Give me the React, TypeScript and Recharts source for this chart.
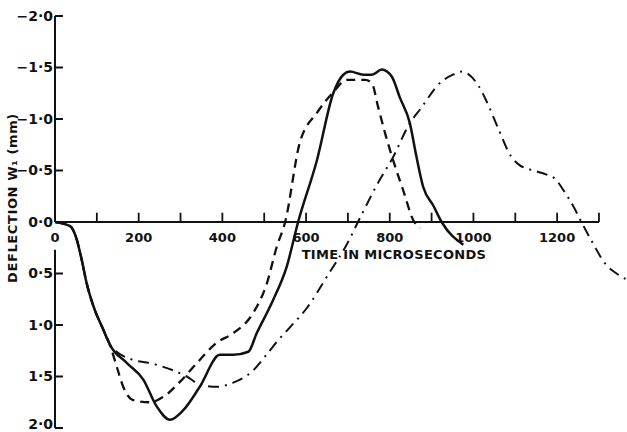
import { LineChart, Line, XAxis, YAxis, ReferenceLine } from "recharts";

// shared onset: all three traces lie on top of each other until ~130 us
const onsetTime = [0, 36, 52, 64, 76, 92, 116, 131];
const onsetDeflection = [0, 0.04, 0.17, 0.37, 0.6, 0.82, 1.05, 1.19];

const solidTime = [
  172, 211, 243, 275, 306, 346, 394, 426, 462, 482, 521, 554, 581, 626, 665,
  689, 705, 737, 757, 781, 805, 824, 848, 864, 880, 904, 924, 976,
];
const solidDeflection = [
  1.37, 1.53, 1.79, 1.92, 1.83, 1.6, 1.29, 1.29, 1.26, 1.08, 0.76, 0.43, 0,
  -0.6, -1.25, -1.43, -1.46, -1.43, -1.43, -1.48, -1.41, -1.21, -0.96, -0.63,
  -0.34, -0.16, 0, 0.22,
];

const dashedTime = [
  148, 163, 187, 227, 258, 299, 339, 387, 426, 474, 506, 530, 550, 585, 626,
  665, 697, 741, 757, 772, 789, 808, 832, 856, 872,
];
const dashedDeflection = [
  1.41, 1.6, 1.73, 1.75, 1.7, 1.55, 1.37, 1.17, 1.08, 0.88, 0.6, 0.24, 0, -0.77,
  -1.06, -1.26, -1.38, -1.38, -1.35, -1.12, -0.86, -0.6, -0.31, -0.02, 0.06,
];

const dashDotTime = [
  187, 227, 282, 315, 347, 387, 426, 474, 507, 535, 562, 601, 653, 697, 729,
  772, 808, 848, 872, 920, 951, 972, 1011, 1035, 1059, 1091, 1111, 1135, 1175,
  1195, 1215, 1239, 1258, 1286, 1314, 1342, 1367,
];
const dashDotDeflection = [
  1.34, 1.37, 1.44, 1.5, 1.58, 1.6, 1.56, 1.44, 1.28, 1.14, 1.02, 0.84, 0.51,
  0.22, -0.04, -0.38, -0.63, -0.96, -1.09, -1.35, -1.43, -1.46, -1.33, -1.14,
  -0.91, -0.63, -0.55, -0.51, -0.46, -0.42, -0.31, -0.15, 0, 0.21, 0.4, 0.5,
  0.56,
];

const xTicks = [0, 100, 200, 300, 400, 500, 600, 700, 800, 900, 1000, 1100, 1200, 1300];
const xTickLabels = ["0", "", "200", "", "400", "", "600", "", "800", "", "1000", "", "1200", ""];
const yTicks = [-2, -1.5, -1, -0.5, 0, 0.5, 1, 1.5, 2];

const toPoints = (t: number[], v: number[]) =>
  t.map((time, i) => ({ t: time, v: v[i] }));

const solidData = toPoints([...onsetTime, ...solidTime], [...onsetDeflection, ...solidDeflection]);
const dashedData = toPoints([...onsetTime, ...dashedTime], [...onsetDeflection, ...dashedDeflection]);
const dashDotData = toPoints([...onsetTime, ...dashDotTime], [...onsetDeflection, ...dashDotDeflection]);

const INK = "#111";
const FONT = "'DejaVu Sans', sans-serif";
const textStyle = { fill: INK, fontSize: 13, fontFamily: FONT, fontWeight: 700 };

const formatY = (v: number) => {
  const s = Math.abs(v).toFixed(1).replace(".", "·");
  return v < 0 ? `−${s}` : s;
};

export default function App() {
  return (
    <div style={{ position: "absolute", left: 0, top: 0, background: "#fff" }}>
      <LineChart
        width={627}
        height={432}
        margin={{ top: 16, right: 0, bottom: 4, left: 0 }}
      >
        <XAxis
          dataKey="t"
          type="number"
          domain={[0, 1367]}
          allowDataOverflow
          hide
        />
        <YAxis
          type="number"
          domain={[-2, 2]}
          reversed
          ticks={yTicks}
          width={55}
          axisLine={false}
          tickLine={false}
          tickSize={0}
          tickMargin={2}
          tick={{ ...textStyle, fontSize: 14 }}
          tickFormatter={formatY}
          label={{
            content: ({ viewBox }: any) => (
              <text
                transform={`translate(17, ${viewBox.y + viewBox.height / 2 - 24}) rotate(-90)`}
                textAnchor="middle"
                style={{ ...textStyle, letterSpacing: 0.6 }}
                fill={INK}
              >
                DEFLECTION  W₁ (mm)
              </text>
            ),
          }}
        />

        {/* y axis drawn in two pieces, broken for the "0" label */}
        <ReferenceLine segment={[{ x: 0, y: -2 }, { x: 0, y: 0 }]} stroke={INK} strokeWidth={2} />
        <ReferenceLine segment={[{ x: 0, y: 0.27 }, { x: 0, y: 2 }]} stroke={INK} strokeWidth={2} />
        {yTicks.map((v) => (
          <ReferenceLine
            key={`yt${v}`}
            segment={[{ x: 0, y: v }, { x: 19, y: v }]}
            stroke={INK}
            strokeWidth={2}
          />
        ))}

        {/* time axis along zero deflection */}
        <ReferenceLine segment={[{ x: 0, y: 0 }, { x: 1300, y: 0 }]} stroke={INK} strokeWidth={1.8} />
        {xTicks.map((t, i) => (
          <ReferenceLine
            key={`xt${t}`}
            segment={[{ x: t, y: 0 }, { x: t, y: -0.09 }]}
            stroke={INK}
            strokeWidth={1.8}
            label={
              xTickLabels[i]
                ? { value: xTickLabels[i], position: "bottom", offset: 11, style: textStyle }
                : undefined
            }
          />
        ))}
        <ReferenceLine
          segment={[{ x: 580, y: 0 }, { x: 1040, y: 0 }]}
          stroke="none"
          label={{
            value: "TIME IN MICROSECONDS",
            position: "bottom",
            offset: 28,
            style: { ...textStyle, letterSpacing: 0.3 },
          }}
        />

        <Line
          data={dashDotData}
          dataKey="v"
          type="monotone"
          dot={false}
          stroke={INK}
          strokeWidth={2}
          strokeDasharray="11 6 2 6"
          isAnimationActive={false}
        />
        <Line
          data={dashedData}
          dataKey="v"
          type="monotone"
          dot={false}
          stroke={INK}
          strokeWidth={2.3}
          strokeDasharray="9 6"
          isAnimationActive={false}
        />
        <Line
          data={solidData}
          dataKey="v"
          type="monotone"
          dot={false}
          stroke={INK}
          strokeWidth={2.5}
          isAnimationActive={false}
        />
      </LineChart>
    </div>
  );
}
